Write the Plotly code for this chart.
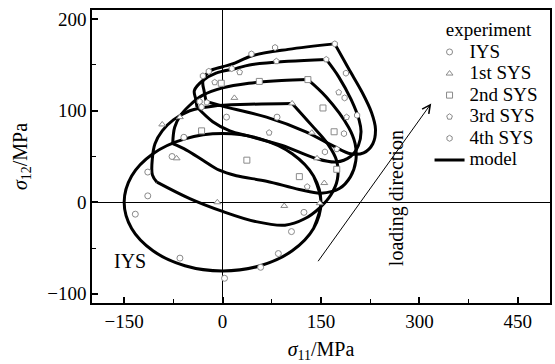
import plotly.graph_objects as go

# ---- model yield surfaces (sigma11, sigma12 in MPa); None splits a surface at its corners ----
iys_x = [138.6, 150, 138.6, 106.1, 57.4, 0, -57.4, -106.1, -138.6, -150, -138.6, -106.1, -57.4, 0, 57.4, 106.1, 138.6, 150, 138.6]
iys_y = [-28.7, 0, 28.7, 53.0, 69.3, 75, 69.3, 53.0, 28.7, 0, -28.7, -53.0, -69.3, -75, -69.3, -53.0, -28.7, 0, 28.7]

sys1_x = [-100, -107, -107, -103, -92, -75, -50, -15, 40, 106, None,
          106, 136, 160, 174, 175, 165, 148, 125, 95, 50, 0, -50, -100]
sys1_y = [22, 30, 48, 64, 78, 90, 100, 105, 107, 108, None,
          108, 84, 64, 45, 25, 8, -6, -18, -25, -21, -10, 4, 22]

sys2_x = [-76, -75, -73, -65, -50, -30, 0, 40, 90, 130, None,
          130, 158, 192, 202, 203, 195, 178, 150, 117, 67, 21, -5, -30, -55, -76]
sys2_y = [64, 74, 82, 94, 106, 117, 125, 130, 133, 134, None,
          134, 115, 82, 64, 45, 28, 15, 10, 14, 23, 29, 35, 46, 57, 64]

sys3_x = [-39, -41, -43, -30, -10, 20, 41, 100, 158, None,
          158, 177, 196, 208, 211, 207, 195, 173, 142, 91, 41, 11, -15, -39]
sys3_y = [104, 113, 122, 133, 141, 146, 150, 154, 156, None,
          156, 137, 112, 90, 77, 62, 50, 44, 48, 62, 72, 78, 88, 104]

sys4_x = [-25, -28, -30, -20, 0, 15, 45, 100, 171, None,
          171, 192, 212, 227, 233, 229, 215, 195, 170, 127, 67, 0, -25]
sys4_y = [110, 121, 132, 143, 148, 151, 160, 167, 173, None,
          173, 146, 121, 98, 80, 64, 54, 53, 61, 77, 93, 105, 110]

# ---- experimental yield points ----
exp_iys_x = [-114, -114, -133, -65, 3, 58, 85, 105, 124, -77, 6, 83, -59]
exp_iys_y = [33, 7, -13, -61, -83, -71, -56, -32, -11, 50, 93, 93, 71]

exp_1st_x = [-92, -65, -70, 18, 106, 136, 144, 155, 148, 94, -8]
exp_1st_y = [85, 93, 48, 114, 108, 76, 48, 21, -1, -4, 0]

exp_2nd_x = [-32, -2, 56, 130, 153, 170, 174, 117, 37]
exp_2nd_y = [78, 130, 132, 134, 103, 77, 36, 28, 46]

exp_3rd_x = [-24, -12, 26, 82, 158, 177, 189, 174, 129, 71]
exp_3rd_y = [109, 131, 142, 154, 156, 120, 93, 58, 17, 76]

exp_4th_x = [-30, -21, 14, 44, 80, 171, 188, 186, 205, 185, 156, -35, -32]
exp_4th_y = [138, 143, 146, 162, 169, 173, 141, 114, 95, 75, 55, 110, 104]

series_names = ["IYS", "1st SYS", "2nd SYS", "3rd SYS", "4th SYS"]
series_symbols = ["circle", "triangle-up", "square", "pentagon", "hexagon"]
series_x = [exp_iys_x, exp_1st_x, exp_2nd_x, exp_3rd_x, exp_4th_x]
series_y = [exp_iys_y, exp_1st_y, exp_2nd_y, exp_3rd_y, exp_4th_y]

x_ticks = [-150, 0, 150, 300, 450]
y_ticks = [-100, 0, 100, 200]

FONT = "Liberation Serif"


def big(label):
    # legend rows keep a compact pitch while the label itself is drawn larger
    return f'<span style="font-size:19px">{label}</span>'


model_x, model_y = [], []
for cx, cy in [(iys_x, iys_y), (sys1_x, sys1_y), (sys2_x, sys2_y), (sys3_x, sys3_y), (sys4_x, sys4_y)]:
    model_x += cx + [None]
    model_y += cy + [None]

fig = go.Figure()
fig.add_trace(go.Scatter(
    x=model_x, y=model_y, mode="lines", name=big("model"),
    line=dict(color="black", width=3, shape="spline", smoothing=1.0),
    connectgaps=False, legendrank=6,
))
for i, (nm, sym, xs, ys) in enumerate(zip(series_names, series_symbols, series_x, series_y)):
    fig.add_trace(go.Scatter(
        x=xs, y=ys, mode="markers", name=big(nm), legendrank=i + 1,
        marker=dict(symbol=sym, size=6, color="white",
                    line=dict(color="#8a8a8a", width=1)),
    ))

fig.add_annotation(x=-168, y=-64, text="IYS", showarrow=False, xanchor="left",
                   font=dict(family=FONT, size=20, color="black"))
fig.add_annotation(x=265, y=5, text="loading direction", textangle=-90, showarrow=False,
                   font=dict(family=FONT, size=20, color="black"))
fig.add_annotation(x=318, y=108, ax=144, ay=-66, xref="x", yref="y", axref="x", ayref="y",
                   text="", showarrow=True, arrowhead=5, arrowsize=1.6, arrowwidth=1,
                   arrowcolor="black")

axis_common = dict(
    showline=True, linecolor="black", linewidth=1.5, mirror=True,
    showgrid=False, zeroline=True, zerolinecolor="black", zerolinewidth=1.2,
    ticks="inside", ticklen=6, tickwidth=1.5, tickcolor="black",
    tickfont=dict(family=FONT, size=19, color="black"),
)

fig.update_layout(
    width=555, height=364,
    margin=dict(l=92, r=3, t=10, b=61),
    paper_bgcolor="white", plot_bgcolor="white",
    font=dict(family=FONT, color="black"),
    xaxis=dict(range=[-199, 499], tickvals=x_ticks,
               minor=dict(dtick=75, tick0=-150, ticks="inside", ticklen=4, tickcolor="black", tickwidth=1.2),
               title=dict(text="<i>σ</i><sub>11</sub>/MPa", font=dict(family=FONT, size=20), standoff=11),
               **axis_common),
    yaxis=dict(range=[-110, 210], tickvals=y_ticks,
               minor=dict(dtick=50, tick0=0, ticks="inside", ticklen=4, tickcolor="black", tickwidth=1.2),
               title=dict(text="<i>σ</i><sub>12</sub>/MPa", font=dict(family=FONT, size=20), standoff=14),
               **axis_common),
    showlegend=True,
    legend=dict(x=0.737, y=0.995, xanchor="left", yanchor="top",
                bgcolor="rgba(0,0,0,0)", borderwidth=0,
                title=dict(text="   experiment", font=dict(family=FONT, size=19)),
                font=dict(family=FONT, size=14.3, color="black"),
                tracegroupgap=0, itemwidth=30),
)

fig.write_html("out.html")
